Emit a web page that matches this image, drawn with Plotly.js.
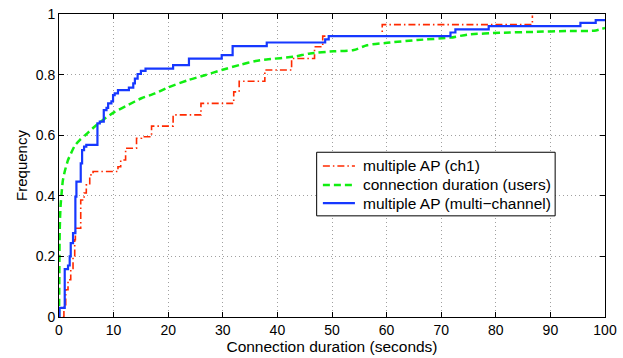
<!DOCTYPE html>
<html>
<head>
<meta charset="utf-8">
<script src="https://cdn.plot.ly/plotly-3.0.1.min.js"></script>
<style>html,body{margin:0;padding:0;background:#fff;}#chart{width:623px;height:358px;}</style>
</head>
<body>
<div id="chart"></div>
<script>
// multiple AP (ch1) — step CDF
const ch1X = [0.7, 0.9, 1.23, 1.65, 2.15, 2.57, 2.88, 3.0, 3.98, 4.6, 5.0, 5.63, 6.24, 10.8, 11.3, 12.2, 14.2, 15.1, 16.95, 20.9, 26.0, 32.0, 33.0, 37.7, 42.6, 46.8, 48.3, 59.2, 86.7];
const ch1Y = [0, 0.037, 0.09, 0.123, 0.16, 0.2, 0.255, 0.293, 0.386, 0.409, 0.436, 0.469, 0.48, 0.496, 0.518, 0.557, 0.59, 0.595, 0.63, 0.667, 0.705, 0.743, 0.778, 0.815, 0.853, 0.892, 0.927, 0.965, 0.995];

// connection duration (users) — smooth CDF
const usersX = [0, 0.05, 0.1, 0.2, 0.3, 0.44, 0.7, 1.05, 1.65, 2.2, 2.88, 3.8, 5.0, 6.5, 8.4, 10.2, 12.7, 15.1, 17.6, 20, 23.7, 26.7, 29.8, 33.3, 36, 38, 43, 46, 50.3, 54, 56.4, 60.1, 65.6, 71.7, 74.8, 80.9, 87, 93.1, 98, 100];
const usersY = [0, 0.1, 0.25, 0.33, 0.37, 0.40, 0.45, 0.48, 0.518, 0.54, 0.565, 0.584, 0.603, 0.628, 0.655, 0.677, 0.7, 0.722, 0.738, 0.758, 0.782, 0.798, 0.815, 0.833, 0.845, 0.85, 0.859, 0.87, 0.877, 0.881, 0.897, 0.905, 0.914, 0.922, 0.932, 0.938, 0.941, 0.944, 0.945, 0.954];

// multiple AP (multi-channel) — step CDF
const multiX = [0, 0.1, 1.05, 1.65, 1.96, 2.15, 2.57, 3.0, 3.19, 3.98, 4.23, 4.59, 5.0, 7.04, 7.47, 8.2, 8.7, 9.0, 9.6, 9.9, 10.2, 10.8, 12.8, 13.6, 13.9, 14.4, 15.0, 15.85, 20.9, 23.8, 29.8, 31.8, 38.05, 48.75, 49.4, 71.7, 72.6, 78.7, 95.5, 98.3, 100];
const multiY = [0, 0.03, 0.158, 0.17, 0.2, 0.244, 0.277, 0.397, 0.447, 0.507, 0.551, 0.562, 0.568, 0.639, 0.645, 0.683, 0.69, 0.705, 0.712, 0.732, 0.738, 0.749, 0.757, 0.771, 0.787, 0.802, 0.812, 0.82, 0.831, 0.853, 0.864, 0.894, 0.906, 0.916, 0.927, 0.939, 0.949, 0.96, 0.971, 0.98, 0.98];

const seriesNames = ['multiple AP (ch1)', 'connection duration (users)', 'multiple AP (multi\u2212channel)'];
const xTicks = [0, 10, 20, 30, 40, 50, 60, 70, 80, 90, 100];
const yTicks = [0, 0.2, 0.4, 0.6, 0.8, 1];
const yTickText = ['0', '0.2', '0.4', '0.6', '0.8', '1'];

const FONT = 'Liberation Sans, Arial, Helvetica, sans-serif';

const styles = [
  {shape: 'hv', color: '#ff2a00', width: 1.6, dash: '7px,3px,1.5px,3px'},
  {shape: 'spline', smoothing: 0.6, color: '#11ee11', width: 2.5, dash: '7px,4px'},
  {shape: 'hv', color: '#1638ff', width: 2.2}
];

const traces = [
  {x: ch1X, y: ch1Y, name: seriesNames[0], mode: 'lines', line: styles[0]},
  {x: usersX, y: usersY, name: seriesNames[1], mode: 'lines', line: styles[1]},
  {x: multiX, y: multiY, name: seriesNames[2], mode: 'lines', line: styles[2]}
];

// Custom legend (MATLAB-style compact box), in paper coordinates
const legBox = {x0: 0.4719, x1: 0.9087, y0: 0.3338, y1: 0.5437};
const legRows = [0.4985, 0.4359, 0.3756];
const legLineX = [0.4833, 0.5420];
const legTextX = 0.5530;

const shapes = [{type: 'rect', xref: 'paper', yref: 'paper', x0: legBox.x0, x1: legBox.x1, y0: legBox.y0, y1: legBox.y1,
  line: {color: '#000', width: 1}, fillcolor: '#fff', layer: 'above'}];
const annotations = [];
seriesNames.forEach((nm, i) => {
  shapes.push({type: 'line', xref: 'paper', yref: 'paper', x0: legLineX[0], x1: legLineX[1], y0: legRows[i], y1: legRows[i],
    line: {color: styles[i].color, width: styles[i].width, dash: styles[i].dash || 'solid'}, layer: 'above'});
  annotations.push({xref: 'paper', yref: 'paper', x: legTextX, y: legRows[i], xanchor: 'left', yanchor: 'middle',
    text: nm, showarrow: false, font: {family: FONT, size: 15.5, color: '#000'}});
});

const axisCommon = {
  showline: true, linecolor: '#000', linewidth: 1, mirror: 'ticks',
  ticks: 'inside', ticklen: 5, tickcolor: '#000', tickwidth: 1,
  showgrid: true, gridcolor: '#a0a0a0', gridwidth: 1, griddash: '1px,3px',
  zeroline: false, tickfont: {family: FONT, size: 14, color: '#000'}
};

const layout = {
  width: 623, height: 358,
  margin: {l: 59, r: 18, t: 14, b: 41},
  paper_bgcolor: '#fff', plot_bgcolor: '#fff',
  font: {family: FONT, size: 14, color: '#000'},
  showlegend: false,
  shapes: shapes,
  annotations: annotations,
  xaxis: Object.assign({}, axisCommon, {
    range: [0, 100], tickvals: xTicks, ticktext: xTicks.map(String),
    title: {text: 'Connection duration (seconds)', font: {family: FONT, size: 15.5, color: '#000'}, standoff: 0}
  }),
  yaxis: Object.assign({}, axisCommon, {
    range: [0, 1], tickvals: yTicks, ticktext: yTickText,
    title: {text: 'Frequency', font: {family: FONT, size: 15, color: '#000'}, standoff: 4}
  })
};

Plotly.newPlot('chart', traces, layout, {staticPlot: true, displayModeBar: false});
</script>
</body>
</html>
